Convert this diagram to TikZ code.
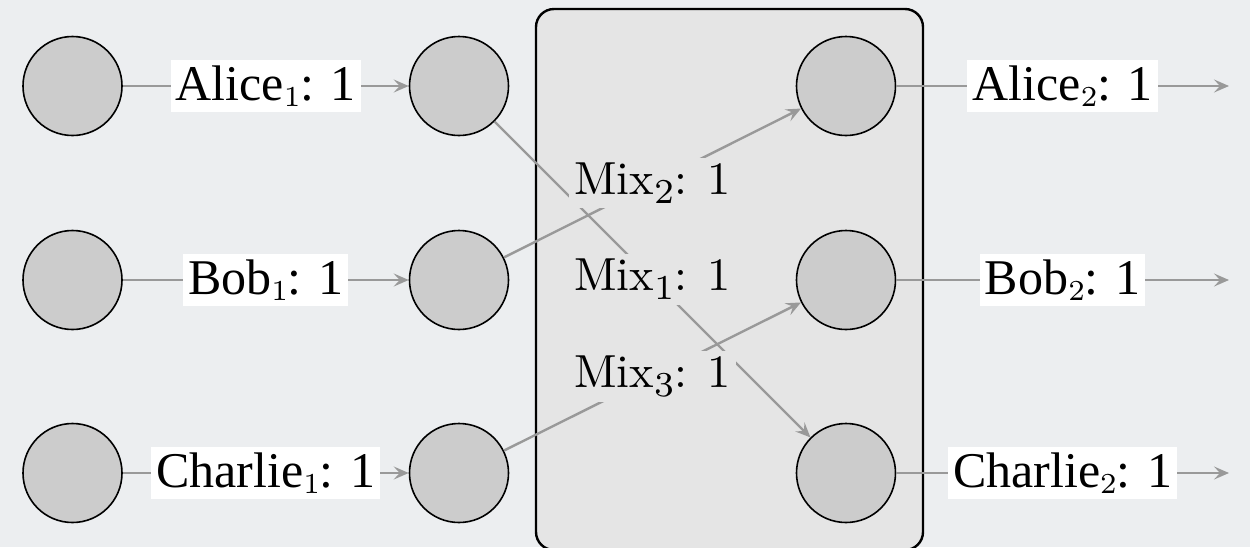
\documentclass[tikz,border=0pt]{standalone}
\usepackage[no-math]{fontspec}
\setmainfont{Liberation Serif}
\newfontfamily\lmfont{lmroman10-regular.otf}
\newfontfamily\lmsubfont{lmroman7-regular.otf}
\usetikzlibrary{arrows.meta}
\definecolor{bgcol}{HTML}{ECEEF0}
\definecolor{nodefill}{HTML}{CCCCCC}
\definecolor{boxfill}{HTML}{E5E5E5}
\definecolor{flowgray}{HTML}{999999}
\newcommand{\tsb}[1]{\raisebox{-6.5pt}{\lmsubfont\fontsize{29}{29}\selectfont #1}}
\newcommand{\msb}[1]{\raisebox{-9pt}{\lmsubfont\fontsize{35}{35}\selectfont #1}}
\tikzset{
  party/.style={circle, draw=black, line width=1.6pt, fill=nodefill, minimum size=99pt, inner sep=0pt},
  mixbox/.style={draw=black, line width=2.4pt, fill=boxfill, rounded corners=18pt, minimum width=387pt, minimum height=541pt, inner sep=0pt},
  flow/.style={draw=flowgray, line width=2.4pt, -{Stealth[length=15pt,width=13pt,inset=6pt]}},
  plainlbl/.style={fill=white, inner sep=5pt, font=\fontsize{50}{56}\selectfont, text=black},
  mixlbl/.style={fill=boxfill, inner sep=5pt, font=\lmfont\fontsize{46.4}{52}\selectfont, text=black},
}
\begin{document}
\begin{tikzpicture}[x=1pt, y=-1pt]
\useasboundingbox (0,0) rectangle (1250,547);
\fill[bgcol] (0,0) rectangle (1250,547);
\node[mixbox] (box) at (729.5,279.5) {};
% nodes
\node[party] (a0) at (72.5,86) {};
\node[party] (b0) at (72.5,280) {};
\node[party] (c0) at (72.5,473) {};
\node[party] (a1) at (459,86) {};
\node[party] (b1) at (459,280) {};
\node[party] (c1) at (459,473) {};
\node[party] (a2) at (846,86) {};
\node[party] (b2) at (846,280) {};
\node[party] (c2) at (846,473) {};
\coordinate (a3) at (1229,86);
\coordinate (b3) at (1229,280);
\coordinate (c3) at (1229,473);
% input edges
\draw[flow] (a0) -- node[plainlbl] {Alice\tsb{1}: 1} (a1);
\draw[flow] (b0) -- node[plainlbl] {Bob\tsb{1}: 1} (b1);
\draw[flow] (c0) -- node[plainlbl] {Charlie\tsb{1}: 1} (c1);
% mix edges
\draw[flow] (a1) -- node[mixlbl] {Mix\msb{1}: 1} (c2);
\draw[flow] (b1) -- node[mixlbl] {Mix\msb{2}: 1} (a2);
\draw[flow] (c1) -- node[mixlbl] {Mix\msb{3}: 1} (b2);
% output edges
\draw[flow] (a2) -- node[plainlbl] {Alice\tsb{2}: 1} (a3);
\draw[flow] (b2) -- node[plainlbl] {Bob\tsb{2}: 1} (b3);
\draw[flow] (c2) -- node[plainlbl] {Charlie\tsb{2}: 1} (c3);
\end{tikzpicture}
\end{document}
